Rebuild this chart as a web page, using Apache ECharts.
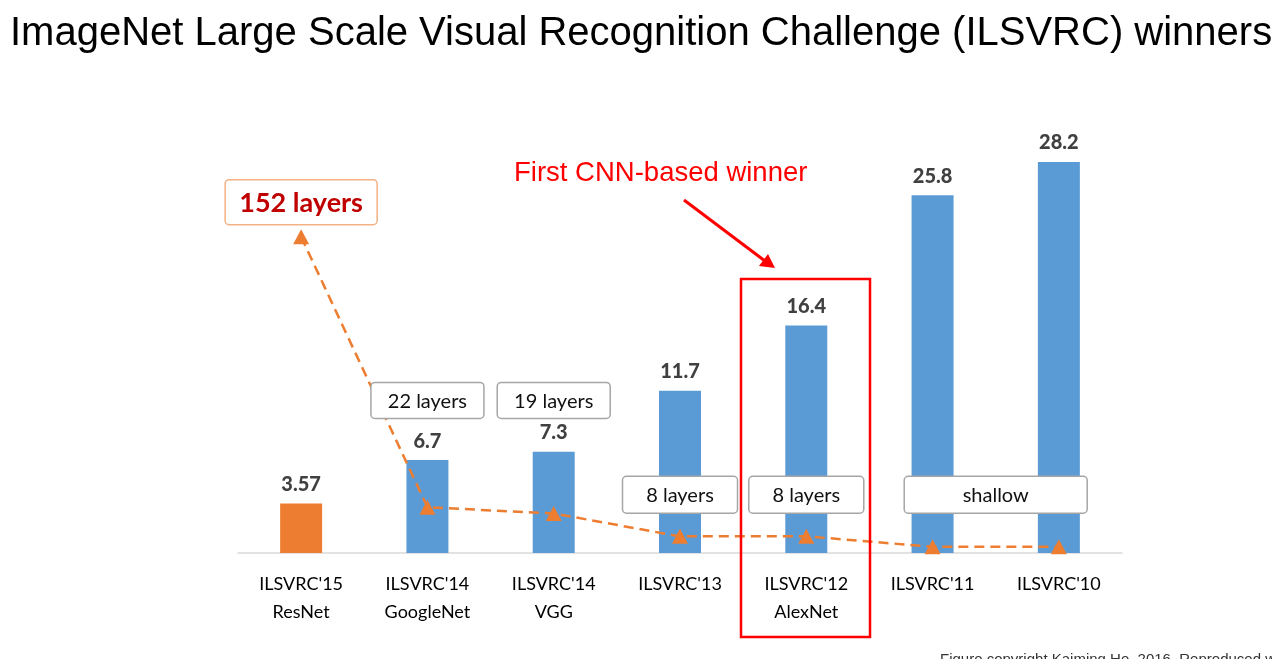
<!DOCTYPE html>
<html>
<head>
<meta charset="utf-8">
<script src="https://cdn.jsdelivr.net/npm/echarts@6/dist/echarts.min.js"></script>
<style>html,body{margin:0;padding:0;background:#fff;}#c{width:1273px;height:659px;}</style>
</head>
<body>
<div id="c"></div>
<script>
// ---- data ----
const categories = ["ILSVRC'15\nResNet", "ILSVRC'14\nGoogleNet", "ILSVRC'14\nVGG", "ILSVRC'13", "ILSVRC'12\nAlexNet", "ILSVRC'11", "ILSVRC'10"];
const errorRates = [3.57, 6.7, 7.3, 11.7, 16.4, 25.8, 28.2];
const layerDepth = [152, 22, 19, 8, 8, 3, 3];
const layerTexts = ['152 layers', '22 layers', '19 layers', '8 layers', '8 layers', 'shallow'];
const layerFrom = [0, 1, 2, 3, 4, 5];
const layerTo = [0, 1, 2, 3, 4, 6];

// ---- annotation styling (not data) ----
const boxLevel = [25.3, 11.0, 11.0, 4.2, 4.2, 4.2];
const boxW = [152, 113, 113, 115, 115, 183];
const boxH = [45, 36, 36, 37, 37, 37];
const FONT = 'Lato, "Open Sans", sans-serif';

const chart = echarts.init(document.getElementById('c'));
const boxData = layerTexts.map((t, i) => [layerFrom[i], layerTo[i], boxLevel[i], i]);

chart.setOption({
  animation: false,
  backgroundColor: '#fff',
  grid: { left: 238, right: 151, top: 137, bottom: 106, containLabel: false },
  xAxis: {
    type: 'category', data: categories, boundaryGap: true,
    axisLine: { lineStyle: { color: '#d9d9d9', width: 1.5 } },
    axisTick: { show: false },
    axisLabel: { fontFamily: FONT, fontSize: 18, lineHeight: 28, color: '#000', margin: 17 }
  },
  yAxis: [
    { type: 'value', min: 0, max: 30, show: false, splitLine: { show: false } },
    { type: 'value', min: 0, max: 200, show: false, splitLine: { show: false } }
  ],
  series: [
    {
      type: 'bar', data: errorRates.map((v, i) => ({ value: v, itemStyle: { color: i === 0 ? '#ED7D31' : '#5B9BD5' } })),
      barWidth: 42, z: 2,
      label: { show: true, position: 'top', distance: 9, fontFamily: FONT, fontWeight: 900, fontSize: 20, color: '#404040' }
    },
    {
      type: 'line', yAxisIndex: 1, data: layerDepth, z: 3,
      symbol: 'triangle', symbolSize: [16, 15],
      itemStyle: { color: '#ED7D31' },
      lineStyle: { color: '#ED7D31', width: 2.5, type: [10, 6] }
    },
    {
      type: 'custom', data: boxData, z: 5, silent: true,
      renderItem: function (params, api) {
        const i = api.value(3);
        const p1 = api.coord([api.value(0), api.value(2)]);
        const p2 = api.coord([api.value(1), api.value(2)]);
        const cx = (p1[0] + p2[0]) / 2, cy = p1[1];
        const w = boxW[i], h = boxH[i];
        const big = i === 0;
        return {
          type: 'group',
          children: [
            { type: 'rect', shape: { x: cx - w / 2, y: cy - h / 2, width: w, height: h, r: 4 },
              style: { fill: '#fff', stroke: big ? '#F4B183' : '#a6a6a6', lineWidth: 1.5 } },
            { type: 'text', x: cx, y: cy + 1,
              style: { text: layerTexts[i], align: 'center', verticalAlign: 'middle', fontFamily: FONT,
                       fontSize: big ? 27 : 20, fontWeight: big ? 'bold' : 'normal', fill: big ? '#C00000' : '#111' } }
          ]
        };
      }
    }
  ],
  graphic: [
    { type: 'text', left: 10, top: 14, style: { text: 'ImageNet Large Scale Visual Recognition Challenge (ILSVRC) winners',
      fontFamily: '"Liberation Sans", Arial, sans-serif', fontSize: 40, fill: '#000' } },
    { type: 'text', left: 514, top: 159, style: { text: 'First CNN-based winner', fontFamily: '"Liberation Sans", Arial, sans-serif', fontSize: 27.5, fill: '#ff0000' } },
    { type: 'line', shape: { x1: 684, y1: 200, x2: 765, y2: 261 }, style: { stroke: '#ff0000', lineWidth: 3 } },
    { type: 'polygon', shape: { points: [[775, 268], [759, 266], [768, 254]] }, style: { fill: '#ff0000' } },
    { type: 'rect', shape: { x: 741, y: 279, width: 129, height: 358 }, style: { fill: 'none', stroke: '#ff0000', lineWidth: 2.5 }, z: 10 },
    { type: 'text', left: 940, top: 652, style: { text: 'Figure copyright Kaiming He, 2016. Reproduced with permission.', fontFamily: '"Liberation Sans", Arial, sans-serif', fontSize: 15, fill: '#333' } }
  ]
});
</script>
</body>
</html>
